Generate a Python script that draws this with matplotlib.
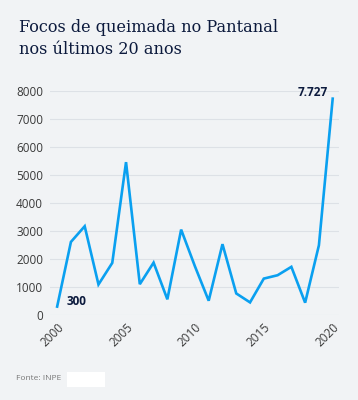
import numpy as np
from matplotlib import pyplot as plt
from matplotlib.patches import Rectangle

years = np.arange(2000, 2021)
focos = [300, 2610, 3170, 1090, 1860, 5460, 1100, 1870, 560, 3050, 1740,
         510, 2530, 770, 450, 1300, 1420, 1720, 440, 2490, 7727]
xticks = [2000, 2005, 2010, 2015, 2020]
yticks = [0, 1000, 2000, 3000, 4000, 5000, 6000, 7000, 8000]

bg = '#f1f3f5'
navy = '#0c1a3d'
blue = '#0aa0f0'

fh = plt.figure(figsize=(3.58, 4.0), dpi=100, facecolor=bg)
ah = fh.add_axes([0.14, 0.2125, 0.807, 0.56])
ah.set_facecolor(bg)

ah.plot(years, focos, color=blue, lw=1.9, solid_joinstyle='miter', clip_on=False)

ah.set_xlim(1999.49, 2020.46)
ah.set_ylim(0, 8000)
ah.set_xticks(xticks)
ah.set_yticks(yticks)
ah.set_xticklabels([str(t) for t in xticks], rotation=45, ha='right',
                   rotation_mode='anchor', fontsize=8.5, color='#3a3a3a',
                   family='Open Sans')
ah.set_yticklabels([str(t) for t in yticks], fontsize=8.5, color='#3a3a3a',
                   family='Open Sans')
ah.tick_params(length=0, pad=5)
ah.tick_params(axis='x', pad=4)
ah.grid(axis='y', color='#dde1e6', lw=0.8)
ah.set_axisbelow(True)
for s in ah.spines.values():
    s.set_visible(False)

# labels for first and last value
ah.annotate('300', (years[0], focos[0]), xytext=(7, 4), textcoords='offset points',
            fontsize=8.5, fontweight='bold', color=navy, family='Open Sans',
            va='center', ha='left')
ah.annotate('7.727', (years[-1], focos[-1]), xytext=(-3.5, 4.5), textcoords='offset points',
            fontsize=8.5, fontweight='bold', color=navy, family='Open Sans',
            va='center', ha='right')

fh.text(19/358, 1-28/400, 'Focos de queimada no Pantanal', fontsize=11.6,
        color=navy, family='DejaVu Serif', va='center', ha='left')
fh.text(19/358, 1-49/400, 'nos últimos 20 anos', fontsize=11.6,
        color=navy, family='DejaVu Serif', va='center', ha='left')

fh.text(16/358, 1-379/400, 'Fonte: INPE', fontsize=6, color='#777777',
        family='Open Sans', va='center', ha='left')
fh.patches.append(Rectangle((67/358, 1-387/400), 38/358, 15/400,
                            transform=fh.transFigure, facecolor='white',
                            edgecolor='none', figure=fh))

plt.savefig('out.png', facecolor=bg)
